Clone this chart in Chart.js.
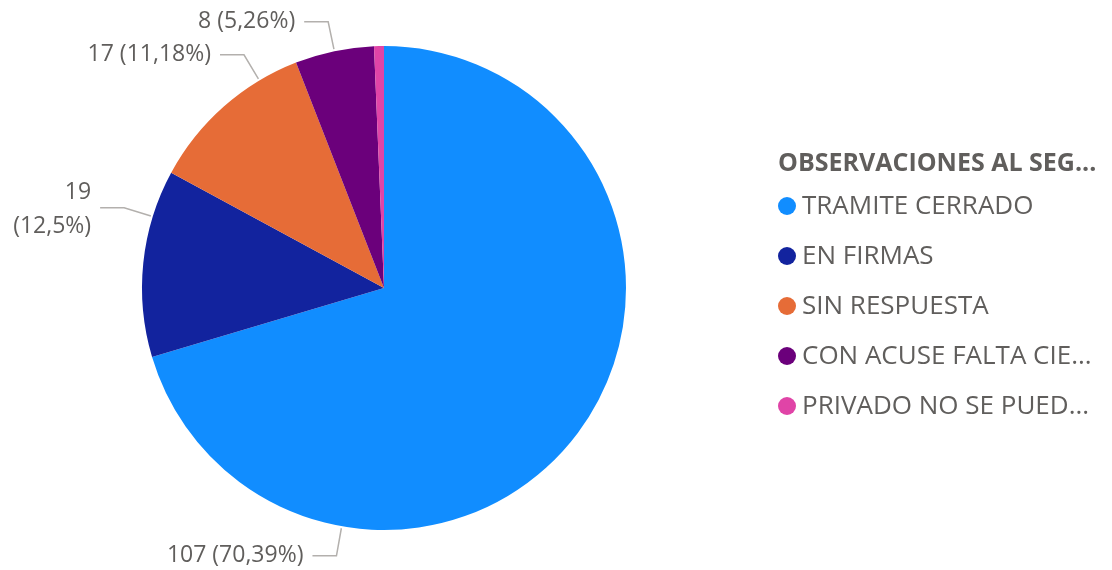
<!DOCTYPE html>
<html>
<head>
<meta charset="utf-8">
<script src="https://cdn.jsdelivr.net/npm/chart.js@4"></script>
<style>
html,body{margin:0;padding:0;background:#fff;}
#wrap{width:1112px;height:570px;position:relative;}
</style>
</head>
<body>
<div id="wrap"><canvas id="pieChart" width="1112" height="570"></canvas></div>
<script>
// data
const legendTitle="OBSERVACIONES AL SEGUIMIENTO";
const categories=[
"TRAMITE CERRADO",
"EN FIRMAS",
"SIN RESPUESTA",
"CON ACUSE FALTA CIERRE",
"PRIVADO NO SE PUEDE CONSULTAR"
];
const values=[107,19,17,8,1];
const colors=["#118DFF","#12239E","#E66C37","#6B007B","#E044A7"];

// where the leader line leaves each slice (fraction of the slice sweep)
const anchorFrac=[0.75,0.75,0.76,0.5,0.5];

const FONT='"Segoe UI","Open Sans",sans-serif';
const TXT="#605E5C";
const LINE="#B3B0AD";

const total=values.reduce((a,b)=>a+b,0);

function pct(v){
let p=Math.round(v/total*10000)/100;
return p.toString().replace(".",",")+"%";
}

function fit(ctx,text,maxW){
if(ctx.measureText(text).width<=maxW) return text;
let t=text;
while(t.length>1 && ctx.measureText(t+"...").width>maxW){
t=t.slice(0,-1);
}
return t.trimEnd()+"...";
}

// leader lines + labels
const sliceLabels={
id:"sliceLabels",
afterDatasetsDraw(chart){
const ctx=chart.ctx;
const arcs=chart.getDatasetMeta(0).data;
ctx.save();
ctx.font="23px "+FONT;
ctx.textBaseline="middle";
ctx.textAlign="right";
arcs.forEach((arc,i)=>{
if(values[i]/total<0.01) return;
const a=arc.startAngle+(arc.endAngle-arc.startAngle)*anchorFrac[i];
const r=arc.outerRadius;
const x1=arc.x+Math.cos(a)*(r+2);
const y1=arc.y+Math.sin(a)*(r+2);
const x2=arc.x+Math.cos(a)*(r+30);
const y2=arc.y+Math.sin(a)*(r+30);
const x3=x2-24;
ctx.strokeStyle=LINE;
ctx.lineWidth=1.5;
ctx.beginPath();
ctx.moveTo(x1,y1);
ctx.lineTo(x2,y2);
ctx.lineTo(x3,y2);
ctx.stroke();
ctx.fillStyle=TXT;
const txt=values[i]+" ("+pct(values[i])+")";
const tx=x3-9;
if(tx-ctx.measureText(txt).width<4){
ctx.fillText(String(values[i]),tx,y2-15);
ctx.fillText("("+pct(values[i])+")",tx,y2+19);
}else{
ctx.fillText(txt,tx,y2);
}
});
ctx.restore();
}
};

// legend on the right
const sideLegend={
id:"sideLegend",
afterDraw(chart){
const ctx=chart.ctx;
ctx.save();
ctx.textBaseline="middle";
ctx.textAlign="left";
ctx.fillStyle=TXT;
ctx.font="bold 25px "+FONT;
ctx.fillText(fit(ctx,legendTitle,325),778,164);
ctx.font="26px "+FONT;
categories.forEach((c,i)=>{
const y=206+i*50;
ctx.fillStyle=colors[i];
ctx.beginPath();
ctx.arc(787,y,9,0,Math.PI*2);
ctx.fill();
ctx.fillStyle=TXT;
ctx.fillText(fit(ctx,c,293),802,y+1);
});
ctx.restore();
}
};

new Chart(document.getElementById("pieChart"),{
type:"pie",
data:{
labels:categories,
datasets:[{
data:values,
backgroundColor:colors,
borderWidth:0
}]
},
options:{
responsive:false,
animation:false,
layout:{padding:{left:142,right:486,top:46,bottom:40}},
plugins:{
legend:{display:false},
tooltip:{enabled:false}
}
},
plugins:[sliceLabels,sideLegend]
});
</script>
</body>
</html>
